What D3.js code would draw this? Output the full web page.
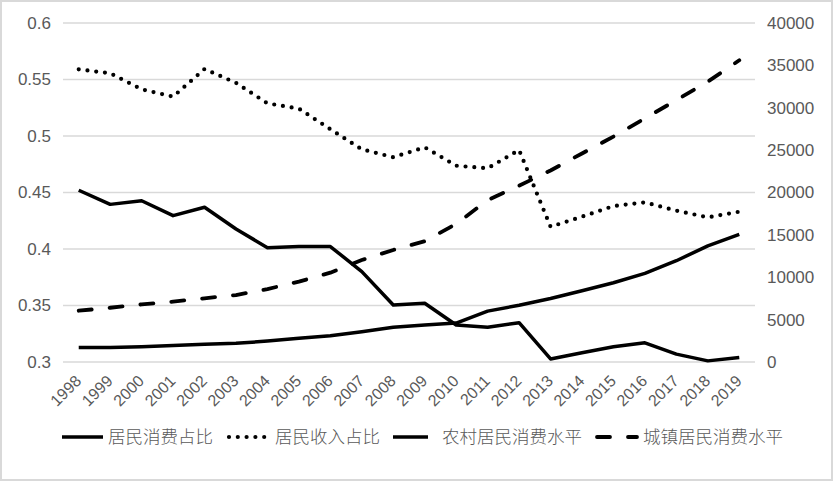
<!DOCTYPE html>
<html><head><meta charset="utf-8">
<script src="https://cdn.jsdelivr.net/npm/d3@7"></script>
<style>body{margin:0;background:#fff}</style>
</head><body><svg id="c" width="834" height="482"></svg>
<script>
const years = ["1998","1999","2000","2001","2002","2003","2004","2005","2006","2007","2008","2009","2010","2011","2012","2013","2014","2015","2016","2017","2018","2019"];
const consumShare = [0.452,0.4395,0.4427,0.4295,0.4369,0.4177,0.4012,0.4022,0.4022,0.380,0.3504,0.352,0.3327,0.3307,0.3348,0.3027,0.3082,0.3135,0.317,0.307,0.301,0.304];
const incomeShare = [0.559,0.5555,0.5413,0.5348,0.5593,0.547,0.5289,0.5242,0.506,0.4882,0.4812,0.490,0.4737,0.4714,0.4876,0.4197,0.4286,0.438,0.4413,0.4339,0.428,0.433];
const ruralLevel = [1700,1720,1800,1950,2080,2200,2470,2790,3100,3580,4090,4370,4600,6000,6700,7500,8400,9350,10450,11950,13700,15050];
const urbanLevel = [6050,6400,6800,7120,7520,7900,8610,9480,10540,12030,13220,14250,16300,19100,20800,22600,24600,26600,28750,30900,33080,35600];
const leftTicks = [0.3,0.35,0.4,0.45,0.5,0.55,0.6];
const rightTicks = [0,5000,10000,15000,20000,25000,30000,35000,40000];
const seriesNames = ["居民消费占比","居民收入占比","农村居民消费水平","城镇居民消费水平"];

const svg = d3.select("#c");
const L = 63, R = 755, T = 23, B = 362;
const x = d3.scalePoint().domain(years).range([L, R]).padding(0.5);
const yL = d3.scaleLinear().domain([0.3, 0.6]).range([B, T]);
const yR = d3.scaleLinear().domain([0, 40000]).range([B, T]);
const gray = "#595959";
const tickFont = "'Liberation Sans', Arial, sans-serif";
const cjkFont = "'Noto Sans CJK SC', sans-serif";

svg.append("rect").attr("x",1).attr("y",1).attr("width",831).attr("height",479)
  .attr("fill","#fff").attr("stroke","#d9d9d9").attr("stroke-width",2);

// gridlines
svg.append("g").selectAll("line").data(leftTicks).join("line")
  .attr("x1",L).attr("x2",R).attr("y1",d=>yL(d)).attr("y2",d=>yL(d))
  .attr("stroke","#d9d9d9").attr("stroke-width",1.5);

// left axis
const ga = svg.append("g").attr("transform",`translate(${L},0)`)
  .call(d3.axisLeft(yL).tickValues(leftTicks).tickFormat(d=>String(+d.toFixed(2))).tickSize(0).tickPadding(12));
ga.select(".domain").remove();
ga.selectAll("text").attr("font-family",tickFont).attr("font-size",17).attr("fill",gray);

const gr = svg.append("g").attr("transform",`translate(${R},0)`)
  .call(d3.axisRight(yR).tickValues(rightTicks).tickFormat(d=>String(d)).tickSize(0).tickPadding(12));
gr.select(".domain").remove();
gr.selectAll("text").attr("font-family",tickFont).attr("font-size",17).attr("fill",gray);

const gx = svg.append("g").attr("transform",`translate(0,${B})`)
  .call(d3.axisBottom(x).tickSize(0).tickPadding(0));
gx.select(".domain").remove();
gx.selectAll("text").attr("font-family",tickFont).attr("font-size",16).attr("fill",gray)
  .attr("text-anchor","end").attr("dy",0).attr("y",0)
  .attr("transform","translate(3,20) rotate(-45)");

const styles = [
  {dash:null, cap:"butt", w:3.5},
  {dash:"0,8.8", cap:"round", w:4.2},
  {dash:null, cap:"butt", w:3.5},
  {dash:"13,18", cap:"round", w:3.8}
];
const data = [consumShare, incomeShare, ruralLevel, urbanLevel];
const scales = [yL, yL, yR, yR];
data.forEach((vals,i)=>{
  const line = d3.line().x((d,j)=>x(years[j])).y(d=>scales[i](d));
  svg.append("path").attr("d",line(vals)).attr("fill","none").attr("stroke","#000")
    .attr("stroke-width",styles[i].w).attr("stroke-linejoin","round")
    .attr("stroke-linecap",styles[i].cap).attr("stroke-dasharray",styles[i].dash);
});

// legend
const legY = 437;
const legItems = [
  {x1:62,x2:103,tx:108},
  {x1:229,x2:267,tx:275},
  {x1:393,x2:428,tx:442},
  {x1:597,x2:637,tx:643}
];
legItems.forEach((it,i)=>{
  svg.append("line").attr("x1",it.x1).attr("x2",it.x2).attr("y1",legY).attr("y2",legY)
    .attr("stroke","#000").attr("stroke-width",styles[i].w)
    .attr("stroke-linecap",styles[i].cap).attr("stroke-dasharray",styles[i].dash);
  svg.append("text").attr("x",it.tx).attr("y",legY).attr("dy","0.35em")
    .attr("font-family",cjkFont).attr("font-size",17.5).attr("font-weight",300).attr("fill",gray)
    .text(seriesNames[i]);
});
</script></body></html>
